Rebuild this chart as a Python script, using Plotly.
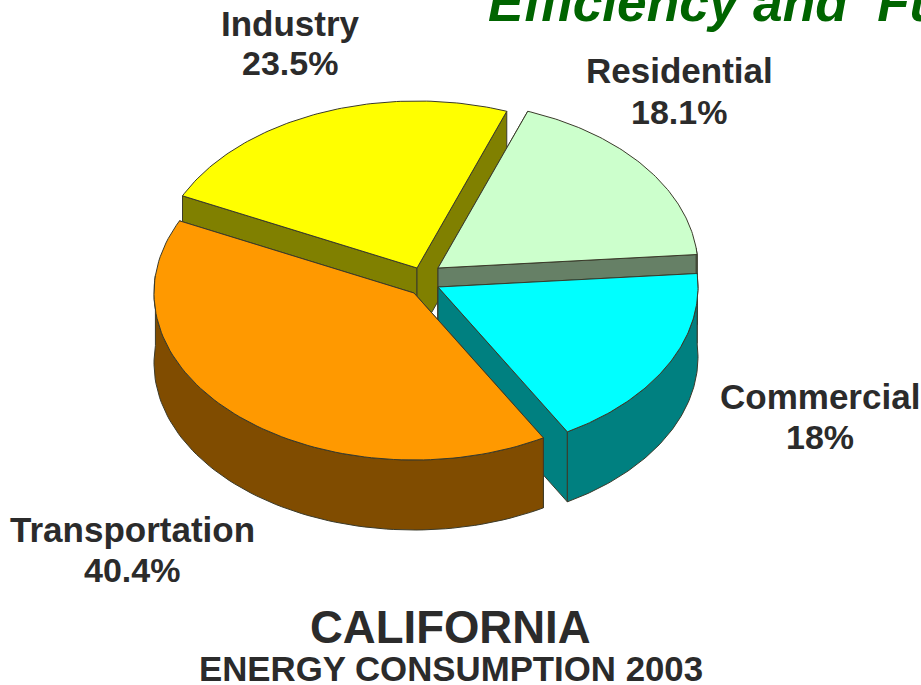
import numpy as np
import plotly.graph_objects as go

# Data
categories = ["Industry", "Residential", "Commercial", "Transportation"]
shares = [23.5, 18.1, 18.0, 40.4]
title_text = "Efficiency and\u00a0\u00a0Fu"
chart_title = "CALIFORNIA"
chart_subtitle = "ENERGY CONSUMPTION 2003"

# Style and layout
top_colors = ["#FFFF00", "#CCFFCC", "#00FFFF", "#FF9900"]
side_colors = ["#808000", "#668066", "#008080", "#804C00"]
explode_dx = [-11, 10, 10, -14]
explode_dy = [-12, -12, 7, 13]
label_x = [290, 679, 820, 132]
name_y = [23, 70, 396, 529]
value_y = [63, 112, 437, 570]
CX, CY = 428, 280
RX, RY = 260, 167
DEPTH = 70
START_ANGLE = 205.6  # where the first category begins, clockwise on screen
FONT = "Liberation Sans"
INK = "#2b2b2b"

fig = go.Figure()


def poly(xs, ys, fill):
    fig.add_trace(go.Scatter(
        x=list(xs) + [xs[0]], y=list(ys) + [ys[0]], mode="lines", fill="toself",
        fillcolor=fill, line=dict(color="#3a3a2a", width=1),
        hoverinfo="skip", showlegend=False,
    ))


spans = np.array(shares) / sum(shares) * 360
starts = START_ANGLE + np.concatenate([[0], np.cumsum(spans)[:-1]])

for i in range(len(categories)):
    ax, ay = CX + explode_dx[i], CY + explode_dy[i]
    t = np.radians(np.linspace(starts[i], starts[i] + spans[i], 90))
    rim_x = ax + RX * np.cos(t)
    rim_y = ay + RY * np.sin(t)
    # cut faces
    for k in (0, -1):
        poly([ax, rim_x[k], rim_x[k], ax],
             [ay, rim_y[k], rim_y[k] + DEPTH, ay + DEPTH], side_colors[i])
    # outer wall, only the part that faces the viewer
    front = np.sin(t) >= -0.12
    if front.any():
        wx, wy = rim_x[front], rim_y[front]
        poly(np.concatenate([wx, wx[::-1]]),
             np.concatenate([wy, wy[::-1] + DEPTH]), side_colors[i])
    # top
    poly(np.concatenate([[ax], rim_x]), np.concatenate([[ay], rim_y]), top_colors[i])

annotations = []
for i in range(len(categories)):
    annotations.append(dict(x=label_x[i], y=name_y[i], text=categories[i],
                            font=dict(family=FONT, size=35, color=INK)))
    annotations.append(dict(x=label_x[i], y=value_y[i], text=f"{shares[i]:g}%",
                            font=dict(family=FONT, size=34, color=INK)))
annotations += [
    dict(x=450, y=627, text=chart_title, font=dict(family=FONT, size=45.5, color=INK)),
    dict(x=451, y=668, text=chart_subtitle, font=dict(family=FONT, size=34.8, color=INK)),
    dict(x=488, y=2, text=f"<i>{title_text}</i>", xanchor="left",
         font=dict(family=FONT, size=53.2, color="#006400")),
]
for a in annotations:
    a.update(xref="x", yref="y", showarrow=False, borderpad=0, borderwidth=0)
    a["text"] = f"<b>{a['text']}</b>"

fig.update_layout(
    width=921, height=685, margin=dict(l=0, r=0, t=0, b=0),
    paper_bgcolor="white", plot_bgcolor="white", annotations=annotations,
    xaxis=dict(range=[0, 921], visible=False),
    yaxis=dict(range=[685, 0], visible=False),
)
fig.write_html("out.html", config=dict(displayModeBar=False),
               post_script="document.body.style.margin='0';")
